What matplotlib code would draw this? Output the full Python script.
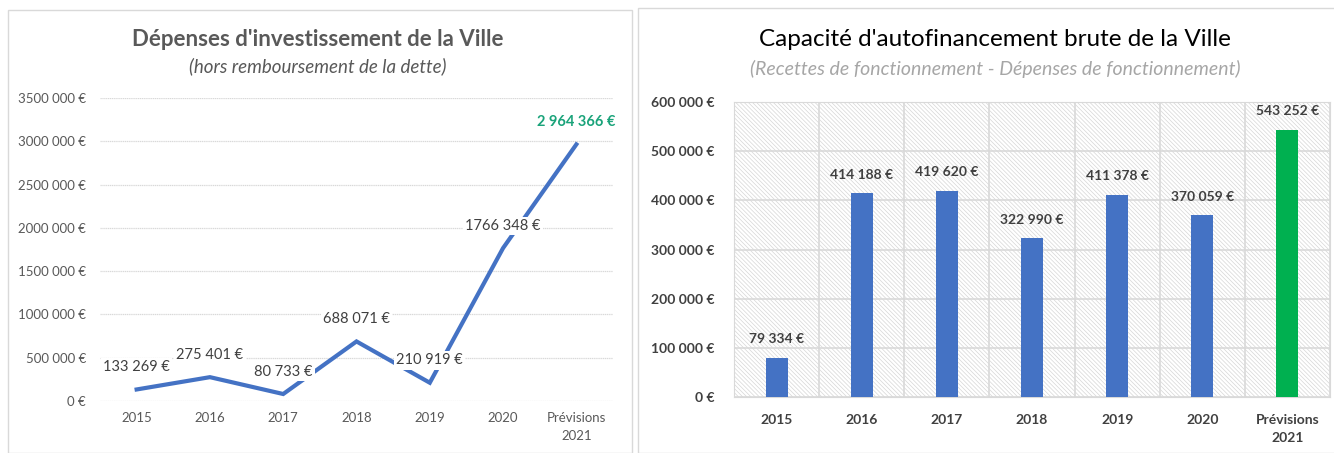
import matplotlib
matplotlib.use("Agg")
import matplotlib.pyplot as plt
from matplotlib.patches import Rectangle
import numpy as np

plt.rcParams['font.family'] = ['Lato', 'DejaVu Sans']
plt.rcParams['hatch.linewidth'] = 0.5

categories = ["2015", "2016", "2017", "2018", "2019", "2020", "Prévisions\n2021"]

invest_values = [133269, 275401, 80733, 688071, 210919, 1766348, 2964366]
invest_labels = ["133 269 €", "275 401 €", "80 733 €", "688 071 €", "210 919 €",
                 "1766 348 €", "2 964 366 €"]
invest_yticks = [0, 500000, 1000000, 1500000, 2000000, 2500000, 3000000, 3500000]
invest_yticklabels = ["0 €", "500 000 €", "1000 000 €", "1500 000 €", "2000 000 €",
                      "2500 000 €", "3000 000 €", "3500 000 €"]

caf_values = [79334, 414188, 419620, 322990, 411378, 370059, 543252]
caf_labels = ["79 334 €", "414 188 €", "419 620 €", "322 990 €", "411 378 €",
              "370 059 €", "543 252 €"]
caf_yticks = [0, 100000, 200000, 300000, 400000, 500000, 600000]
caf_yticklabels = ["0 €", "100 000 €", "200 000 €", "300 000 €", "400 000 €",
                   "500 000 €", "600 000 €"]

W, H = 1334, 453
fig = plt.figure(figsize=(W / 100, H / 100), dpi=100)

def fx(px):
    return px / W

def fy(py):
    return 1 - py / H

# panel borders
fig.patches.append(Rectangle((fx(8), fy(453)), fx(624), fy(10) - fy(453),
                             transform=fig.transFigure, fill=False, edgecolor='#d9d9d9', lw=1))
fig.patches.append(Rectangle((fx(638), fy(453)), fx(700), fy(8) - fy(453),
                             transform=fig.transFigure, fill=False, edgecolor='#d9d9d9', lw=1))

# ---------- Left chart ----------
ax1 = fig.add_axes([fx(100), fy(401), fx(513), fy(98) - fy(401)])
x = np.arange(len(categories))
ax1.plot(x, invest_values, color='#4472C4', lw=3, solid_joinstyle='miter', zorder=3)
ax1.set_xlim(-0.5, len(categories) - 0.5)
ax1.set_ylim(0, 3500000)
ax1.set_yticks(invest_yticks)
ax1.set_yticklabels(invest_yticklabels, color='#595959', fontsize=9.5)
ax1.set_xticks(x)
ax1.set_xticklabels(categories, color='#595959', fontsize=9.5, linespacing=1.6)
ax1.tick_params(length=0, pad=10)
ax1.tick_params(axis='x', pad=8)
for s in ax1.spines.values():
    s.set_visible(False)
ax1.grid(axis='y', color='#d9d9d9', lw=0.9, linestyle=(0, (1, 0.5)))
ax1.set_axisbelow(True)
for i, (v, lab) in enumerate(zip(invest_values, invest_labels)):
    last = i == len(invest_values) - 1
    ax1.annotate(lab, (i, v), xytext=(0, 11), textcoords='offset points',
                 ha='center', va='bottom', fontsize=10.5,
                 color='#1AA37A' if last else '#404040',
                 fontweight='bold' if last else 'normal',
                 bbox=None if last else dict(boxstyle='square,pad=0.15', fc='white', ec='none'),
                 zorder=4)

fig.text(fx(318), fy(40), "Dépenses d'investissement de la Ville", ha='center', va='center',
         fontsize=16, fontweight='bold', color='#595959')
fig.text(fx(318), fy(66), "(hors remboursement de la dette)", ha='center', va='center',
         fontsize=13.5, style='italic', color='#595959')

# ---------- Right chart ----------
ax2 = fig.add_axes([fx(734), fy(397), fx(596), fy(102) - fy(397)])
ax2.add_patch(Rectangle((0, 0), 1, 1, transform=ax2.transAxes, facecolor='white',
                        edgecolor='#d6d6d6', hatch='\\\\\\\\\\\\\\\\', lw=0, zorder=0))
colors = ['#4472C4'] * 6 + ['#00B050']
ax2.bar(x, caf_values, width=0.26, color=colors, zorder=3)
ax2.set_xlim(-0.5, len(categories) - 0.5)
ax2.set_ylim(0, 600000)
ax2.set_yticks(caf_yticks)
ax2.set_yticklabels(caf_yticklabels, color='#404040', fontsize=10, fontweight='bold')
ax2.set_xticks(x)
ax2.set_xticklabels(categories, color='#404040', fontsize=10, fontweight='bold', linespacing=1.6)
ax2.set_xticks(np.arange(len(categories) + 1) - 0.5, minor=True)
ax2.tick_params(which='both', length=0)
ax2.tick_params(axis='y', pad=14)
ax2.tick_params(axis='x', pad=12)
ax2.grid(axis='y', which='major', color='#d9d9d9', lw=1.2)
ax2.grid(axis='x', which='minor', color='#d9d9d9', lw=1.2)
ax2.grid(axis='x', which='major', visible=False)
ax2.set_axisbelow(True)
for s in ax2.spines.values():
    s.set_color('#d9d9d9')
for i, (v, lab) in enumerate(zip(caf_values, caf_labels)):
    ax2.annotate(lab, (i, v), xytext=(0, 9), textcoords='offset points',
                 ha='center', va='bottom', fontsize=10, fontweight='bold', color='#404040')

fig.text(fx(995), fy(40), "Capacité d'autofinancement brute de la Ville", ha='center', va='center',
         fontsize=17.5, color='#000000')
fig.text(fx(995), fy(69), "(Recettes de fonctionnement - Dépenses de fonctionnement)", ha='center',
         va='center', fontsize=14, style='italic', color='#a6a6a6')

fig.savefig("out.png", dpi=100, facecolor='white')
